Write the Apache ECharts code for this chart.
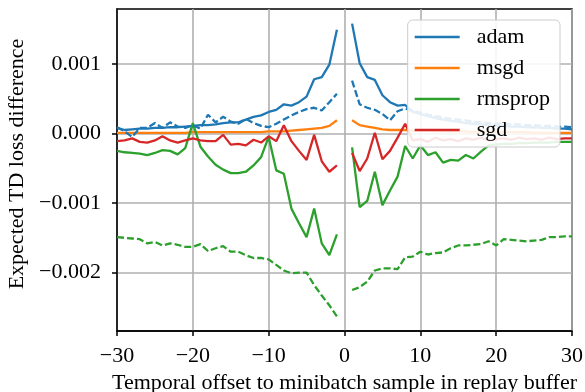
<!DOCTYPE html>
<html>
<head>
<meta charset="utf-8">
<script src="https://cdn.jsdelivr.net/npm/echarts@6/dist/echarts.min.js"></script>
<style>
  html, body { margin: 0; padding: 0; background: #fff; }
  #chart { width: 585px; height: 392px; }
</style>
</head>
<body>
<div id="chart"></div>
<script>
// offsets (no sample at 0)
const offsets = [
  -30, -29, -28, -27, -26, -25, -24, -23, -22, -21,
  -20, -19, -18, -17, -16, -15, -14, -13, -12, -11,
  -10, -9, -8, -7, -6, -5, -4, -3, -2, -1,
  1, 2, 3, 4, 5, 6, 7, 8, 9, 10,
  11, 12, 13, 14, 15, 16, 17, 18, 19, 20,
  21, 22, 23, 24, 25, 26, 27, 28, 29, 30
];

// values in units of 1e-3
const adam = [
  0.08, 0.05, 0.06, 0.07, 0.07, 0.08, 0.08, 0.09, 0.09, 0.10,
  0.11, 0.12, 0.12, 0.13, 0.15, 0.16, 0.16, 0.20, 0.24, 0.26,
  0.31, 0.34, 0.42, 0.40, 0.45, 0.53, 0.78, 0.81, 0.99, 1.49,
  1.58, 1.01, 0.81, 0.77, 0.55, 0.45, 0.40, 0.41, 0.31, 0.28,
  0.25, 0.22, 0.20, 0.18, 0.17, 0.15, 0.14, 0.13, 0.12, 0.11,
  0.11, 0.10, 0.10, 0.09, 0.09, 0.08, 0.08, 0.07, 0.07, 0.06
];
const adamDashed = [
  0.09, 0.03, -0.05, 0.08, 0.08, 0.15, 0.08, 0.16, 0.10, 0.08,
  0.12, 0.07, 0.27, 0.16, 0.24, 0.17, 0.14, 0.21, 0.15, 0.11,
  0.09, 0.14, 0.20, 0.26, 0.31, 0.35, 0.37, 0.33, 0.45, 0.57,
  0.76, 0.42, 0.37, 0.34, 0.28, 0.19, 0.32, 0.36, 0.33, 0.30,
  0.27, 0.25, 0.23, 0.21, 0.20, 0.19, 0.17, 0.16, 0.15, 0.14,
  0.14, 0.13, 0.13, 0.12, 0.12, 0.11, 0.11, 0.10, 0.10, 0.09
];
const msgd = [
  0.01, 0.01, 0.01, 0.01, 0.01, 0.01, 0.01, 0.01, 0.01, 0.01,
  0.02, 0.02, 0.02, 0.02, 0.02, 0.02, 0.02, 0.02, 0.02, 0.02,
  0.03, 0.03, 0.03, 0.04, 0.05, 0.06, 0.07, 0.08, 0.11, 0.19,
  0.19, 0.12, 0.10, 0.08, 0.06, 0.05, 0.05, 0.05, 0.04, 0.04,
  0.04, 0.03, 0.03, 0.03, 0.03, 0.03, 0.02, 0.02, 0.02, 0.02,
  0.02, 0.02, 0.02, 0.02, 0.01, 0.01, 0.01, 0.01, 0.01, 0.01
];
const rmsprop = [
  -0.25, -0.27, -0.28, -0.29, -0.31, -0.28, -0.24, -0.25, -0.30, -0.21,
  0.15, -0.19, -0.33, -0.45, -0.52, -0.57, -0.57, -0.55, -0.46, -0.34,
  -0.05, -0.53, -0.58, -1.08, -1.29, -1.49, -1.08, -1.58, -1.75, -1.45,
  -0.20, -1.06, -0.97, -0.55, -1.03, -0.82, -0.62, -0.18, -0.36, -0.17,
  -0.31, -0.27, -0.42, -0.38, -0.39, -0.31, -0.36, -0.26, -0.17, -0.16,
  -0.15, -0.15, -0.14, -0.14, -0.13, -0.13, -0.13, -0.12, -0.12, -0.12
];
const rmspropDashed = [
  -1.49, -1.50, -1.51, -1.52, -1.58, -1.56, -1.61, -1.58, -1.60, -1.63,
  -1.63, -1.59, -1.69, -1.65, -1.62, -1.70, -1.70, -1.75, -1.79, -1.79,
  -1.81, -1.89, -1.97, -2.01, -2.00, -2.00, -2.18, -2.33, -2.47, -2.63,
  -2.25, -2.21, -2.13, -1.97, -1.94, -1.94, -1.95, -1.78, -1.77, -1.70,
  -1.74, -1.72, -1.71, -1.65, -1.61, -1.61, -1.60, -1.59, -1.55, -1.61,
  -1.52, -1.53, -1.54, -1.55, -1.54, -1.53, -1.49, -1.49, -1.48, -1.48
];
const sgd = [
  -0.11, -0.10, -0.07, -0.12, -0.13, -0.10, -0.04, -0.10, -0.13, -0.10,
  -0.07, -0.10, -0.11, -0.11, -0.02, -0.16, -0.15, -0.17, -0.09, -0.13,
  -0.04, -0.11, 0.12, -0.11, -0.25, -0.38, -0.02, -0.40, -0.55, -0.46,
  -0.28, -0.54, -0.36, 0.01, -0.37, -0.25, -0.06, 0.14, -0.10, -0.08,
  -0.12, -0.06, -0.10, -0.08, -0.11, -0.07, -0.09, -0.06, -0.10, -0.08,
  -0.07, -0.09, -0.06, -0.08, -0.07, -0.09, -0.06, -0.08, -0.07, -0.07
];

const xTicks = [-30, -20, -10, 0, 10, 20, 30];
const yTicks = [-0.002, -0.001, 0, 0.001];

const SCALE = 1e-3;
const FONT = '"Liberation Serif", "DejaVu Serif", serif';
const C = { adam: '#1f77b4', msgd: '#ff7f0e', rmsprop: '#2ca02c', sgd: '#d62728' };

const minus = (s) => String(s).replace('-', '\u2212');

// left and right halves joined with a gap at offset 0
const toData = (vals) => {
  const out = [];
  offsets.forEach((x, i) => {
    if (x === 1) out.push([0, '-']);
    out.push([x, vals[i] * SCALE]);
  });
  return out;
};

const lineSeries = (name, vals, color, dashed) => ({
  name,
  type: 'line',
  data: toData(vals),
  symbol: 'none',
  connectNulls: false,
  lineStyle: { color, width: 2.3, type: dashed ? [7, 3] : 'solid' },
  itemStyle: { color },
  emphasis: { disabled: true },
});

const chart = echarts.init(document.getElementById('chart'));
chart.setOption({
  animation: false,
  grid: {
    left: 117, right: 13, top: 9, bottom: 61,
    outerBoundsMode: 'none',
    containLabel: false,
    show: true, borderColor: '#000', borderWidth: 1.5, backgroundColor: 'transparent',
  },
  legend: {
    data: ['adam', 'msgd', 'rmsprop', 'sgd'],
    orient: 'vertical',
    right: 25,
    top: 20,
    padding: [6, 10, 6, 7],
    itemGap: 9,
    itemWidth: 45,
    itemHeight: 2.3,
    icon: 'rect',
    backgroundColor: 'rgba(255,255,255,0.88)',
    borderColor: '#cccccc',
    borderWidth: 1,
    borderRadius: 5,
    textStyle: { fontFamily: FONT, fontSize: 22, lineHeight: 22, color: '#000', padding: [0, 0, 0, 12] },
  },
  xAxis: {
    type: 'value',
    min: -30,
    max: 30,
    interval: 10,
    name: 'Temporal offset to minibatch sample in replay buffer',
    nameLocation: 'middle',
    nameGap: 40,
    nameTextStyle: { fontFamily: FONT, fontSize: 22, color: '#000' },
    axisLine: { show: true, onZero: false, lineStyle: { color: '#000', width: 1.5 } },
    axisTick: { show: true, inside: false, length: 5, lineStyle: { color: '#000', width: 1.5 } },
    axisLabel: {
      customValues: xTicks,
      fontFamily: FONT, fontSize: 22, color: '#000', margin: 14,
      formatter: (v) => minus(v),
    },
    splitLine: { show: true, lineStyle: { color: '#b0b0b0', width: 1.6 } },
  },
  yAxis: {
    type: 'value',
    min: -0.00284,
    max: 0.00179,
    minInterval: 0.001,
    maxInterval: 0.001,
    name: 'Expected TD loss difference',
    nameLocation: 'middle',
    nameGap: 76,
    nameTextStyle: { fontFamily: FONT, fontSize: 22, color: '#000', padding: [0, 0, 0, 12] },
    axisLine: { show: true, onZero: false, lineStyle: { color: '#000', width: 1.5 } },
    axisTick: { show: true, inside: false, length: 5, customValues: yTicks, lineStyle: { color: '#000', width: 1.5 } },
    axisLabel: {
      customValues: yTicks,
      fontFamily: FONT, fontSize: 22, color: '#000', margin: 16,
      formatter: (v) => minus(v.toFixed(3)),
    },
    splitLine: { show: true, lineStyle: { color: '#b0b0b0', width: 1.6 } },
  },
  series: [
    lineSeries('adam', adam, C.adam, false),
    lineSeries('msgd', msgd, C.msgd, false),
    lineSeries('rmsprop', rmsprop, C.rmsprop, false),
    lineSeries('sgd', sgd, C.sgd, false),
    lineSeries('adam (dashed)', adamDashed, C.adam, true),
    lineSeries('rmsprop (dashed)', rmspropDashed, C.rmsprop, true),
  ],
});
</script>
</body>
</html>
